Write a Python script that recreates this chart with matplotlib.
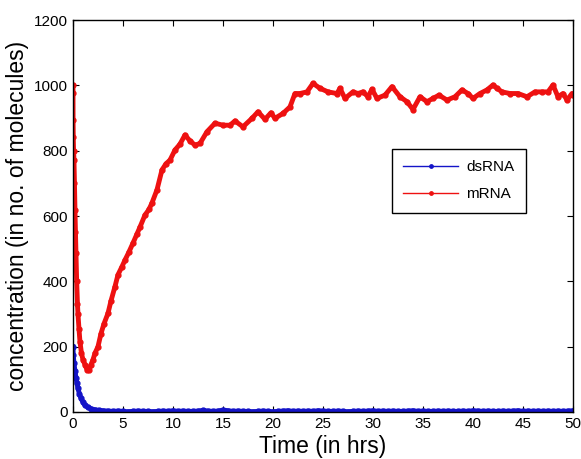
import matplotlib
matplotlib.use("Agg")
import matplotlib.pyplot as plt

plt.rcParams['font.family'] = ['Liberation Sans', 'DejaVu Sans']

# mRNA trajectory
t_mrna = [0, 0.005, 0.01, 0.03, 0.06, 0.1, 0.15, 0.2, 0.25, 0.3,
          0.37, 0.45, 0.5, 0.6, 0.7, 0.85, 1.0, 1.2, 1.4, 1.6,
          1.8, 2.0, 2.2, 2.5, 2.8, 3.1, 3.5, 3.8, 4.2, 4.5,
          4.9, 5.2, 5.6, 6.0, 6.4, 6.7, 7.2, 7.6, 7.9, 8.4,
          8.9, 9.3, 9.7, 10.2, 10.7, 11.2, 11.7, 12.2, 12.7, 13.4,
          14.2, 15.0, 15.7, 16.2, 17.0, 17.9, 18.5, 19.2, 19.8, 20.2,
          21.0, 21.7, 22.2, 22.7, 23.4, 24.0, 24.7, 25.5, 26.4, 26.7,
          27.2, 28.0, 28.5, 29.0, 29.5, 29.9, 30.4, 31.2, 31.9, 32.7,
          33.4, 34.0, 34.7, 35.4, 36.0, 36.6, 37.4, 38.2, 38.9, 39.5,
          40.0, 40.7, 41.4, 42.0, 42.4, 42.9, 43.7, 44.5, 45.4, 46.2,
          46.9, 47.5, 48.0, 48.5, 49.0, 49.4, 49.9, 50.0]
mrna = [1000, 977, 894, 843, 800, 771, 700, 618, 550, 487,
        400, 330, 300, 255, 215, 180, 160, 145, 130, 128,
        145, 160, 180, 200, 240, 270, 302, 340, 384, 420,
        445, 465, 490, 517, 545, 566, 603, 620, 640, 680,
        741, 760, 771, 802, 820, 848, 830, 817, 822, 858,
        884, 878, 878, 891, 873, 899, 919, 896, 916, 899,
        914, 934, 975, 975, 980, 1006, 991, 980, 975, 991,
        960, 980, 975, 980, 965, 988, 960, 970, 996, 965,
        950, 926, 965, 950, 960, 970, 955, 965, 986, 975,
        960, 975, 986, 1001, 991, 980, 975, 975, 965, 980,
        980, 980, 1001, 965, 975, 955, 975, 970]

# dsRNA trajectory
t_dsrna = [0, 0.03, 0.1, 0.2, 0.3, 0.4, 0.5, 0.65, 0.8, 1.0,
           1.2, 1.5, 1.8, 2.2, 2.6, 3.0,
           3.5, 4.0, 4.5, 5.0, 5.5, 6.0, 6.5, 7.0, 7.5, 8.0,
           8.5, 9.0, 9.5, 10.0, 10.5, 11.0, 11.5, 12.0, 12.5, 13.0,
           13.5, 14.0, 14.5, 15.0, 15.5, 16.0, 16.5, 17.0, 17.5, 18.0,
           18.5, 19.0, 19.5, 20.0, 20.5, 21.0, 21.5, 22.0, 22.5, 23.0,
           23.5, 24.0, 24.5, 25.0, 25.5, 26.0, 26.5, 27.0, 27.5, 28.0,
           28.5, 29.0, 29.5, 30.0, 30.5, 31.0, 31.5, 32.0, 32.5, 33.0,
           33.5, 34.0, 34.5, 35.0, 35.5, 36.0, 36.5, 37.0, 37.5, 38.0,
           38.5, 39.0, 39.5, 40.0, 40.5, 41.0, 41.5, 42.0, 42.5, 43.0,
           43.5, 44.0, 44.5, 45.0, 45.5, 46.0, 46.5, 47.0, 47.5, 48.0,
           48.5, 49.0, 49.5, 50.0]
dsrna = [200, 175, 150, 125, 105, 88, 72, 55, 42, 30,
         21, 14, 10, 7, 5, 4,
         3, 2, 3, 2, 1, 2, 3, 2, 2, 1,
         2, 3, 2, 4, 2, 3, 2, 2, 3, 5,
         3, 2, 3, 6, 4, 2, 3, 2, 2, 1,
         2, 3, 2, 1, 2, 3, 4, 2, 3, 2,
         3, 2, 4, 3, 2, 2, 3, 2, 1, 2,
         3, 2, 3, 4, 2, 3, 2, 3, 2, 2,
         3, 4, 2, 3, 2, 2, 3, 2, 3, 2,
         2, 3, 2, 4, 3, 2, 3, 2, 2, 3,
         2, 3, 4, 2, 3, 2, 3, 2, 3, 2,
         3, 2, 3, 4]

blue = '#1414c8'
red = '#ee1111'

fig = plt.figure(figsize=(5.81, 4.59), dpi=100)
ax = fig.add_axes([0.1256, 0.1024, 0.8606, 0.854])

ax.plot(t_dsrna, dsrna, '.-', color=blue, lw=3.5, ms=7, label='dsRNA')
ax.plot(t_mrna, mrna, '.-', color=red, lw=3.5, ms=7, label='mRNA')

ax.set_xlim(0, 50)
ax.set_ylim(0, 1200)
ax.set_xticks(range(0, 51, 5))
ax.set_yticks(range(0, 1201, 200))
ax.tick_params(direction='in', top=True, right=True, length=4, labelsize=11)
for s in ax.spines.values():
    s.set_linewidth(1.0)

ax.set_xlabel('Time (in hrs)', fontsize=16.5, labelpad=3)
ax.set_ylabel('concentration (in no. of molecules)', fontsize=16.5, labelpad=4)

leg = ax.legend(loc='upper left', bbox_to_anchor=(0.638, 0.671), fontsize=11,
                handlelength=3.6, handletextpad=0.5, markerscale=0.7,
                fancybox=False, framealpha=1, borderpad=0.75, labelspacing=0.85,
                borderaxespad=0)
leg.get_frame().set_edgecolor('black')
leg.get_frame().set_linewidth(1.0)
for ln in leg.get_lines():
    ln.set_linewidth(1.0)

fig.savefig('out.png', dpi=100)
